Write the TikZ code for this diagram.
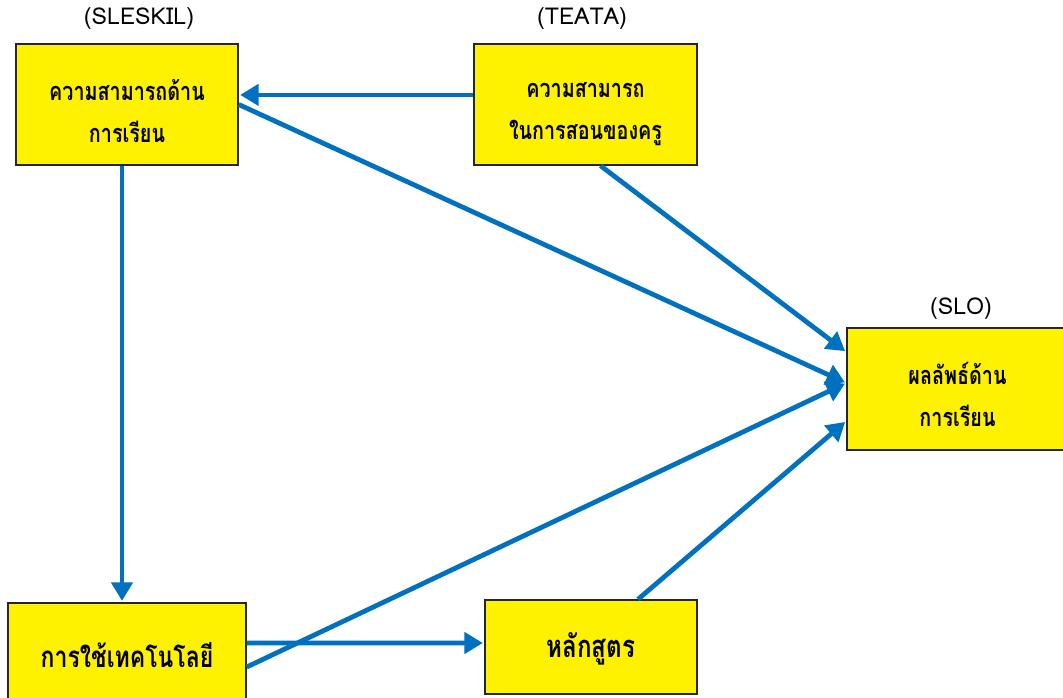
\documentclass[tikz,border=0pt]{standalone}
\usepackage{fontspec}
\newfontfamily\thaifont[Script=Thai, FakeStretch=0.78]{Loma}
\newfontfamily\tagfont[Script=Thai]{Loma}
\usetikzlibrary{arrows.meta}
\definecolor{arrowblue}{RGB}{0,112,192}
\newcommand\lift{\rule{0pt}{24pt}}

\begin{document}
\begin{tikzpicture}[
  x=0.025cm, y=-0.025cm,
  basebox/.style={rectangle, draw=black!85, line width=1pt, fill=yellow, align=center},
  box/.style={basebox, font=\thaifont\bfseries\fontsize{18}{30}\selectfont},
  bigbox/.style={basebox, font=\thaifont\bfseries\fontsize{21}{30}\selectfont},
  tag/.style={font=\tagfont\fontsize{16.5}{18}\selectfont},
  flow/.style={draw=arrowblue, line width=3.4pt,
               -{Triangle[length=4.6mm, width=5.2mm]}, shorten >=1pt},
]
  \useasboundingbox (0,0) rectangle (1063,697);

  \node[box, minimum width=5.55cm, minimum height=3.025cm] (sleskil) at (127,104.5)
    {\lift ความสามารถด้าน\\การเรียน};
  \node[box, minimum width=5.575cm, minimum height=3.025cm] (teata) at (585.5,104.5)
    {\lift ความสามารถ\\ในการสอนของครู};
  \node[box, minimum width=5.525cm, minimum height=3.05cm] (slo) at (957.5,389)
    {\lift ผลลัพธ์ด้าน\\การเรียน};
  \node[bigbox, minimum width=5.95cm, minimum height=2.6cm] (tech) at (127,655)
    {การใช้เทคโนโลยี};
  \node[bigbox, minimum width=5.3cm, minimum height=2.35cm,
        font=\thaifont\bfseries\fontsize{22}{30}\selectfont] (curr) at (591,647)
    {\rule{0pt}{20pt}หลักสูตร};

  % variable codes
  \node[tag] (sleskiltag) at (139,18) {(SLESKIL)};
  \node[tag] (teatatag) at (582,18) {(TEATA)};
  \node[tag] (slotag) at (961,308) {(SLO)};

  % paths
  \draw[flow] ([yshift=0.24cm]teata.west) -- ([yshift=0.24cm]sleskil.east);
  \draw[flow] (sleskil.east) -- ([yshift=0.15cm]slo.west);
  \draw[flow] ([xshift=0.375cm]teata.south) -- ([yshift=0.925cm]slo.west);
  \draw[flow] ([xshift=-0.125cm]sleskil.south) -- ([xshift=-0.125cm]tech.north);
  \draw[flow] ([yshift=0.3cm]tech.east) -- ([yshift=0.1cm]curr.west);
  \draw[flow] ([yshift=-0.3cm]tech.east) -- ([yshift=0.15cm]slo.west);
  \draw[flow] ([xshift=1.175cm]curr.north) -- ([yshift=-0.8cm]slo.west);
\end{tikzpicture}
\end{document}
